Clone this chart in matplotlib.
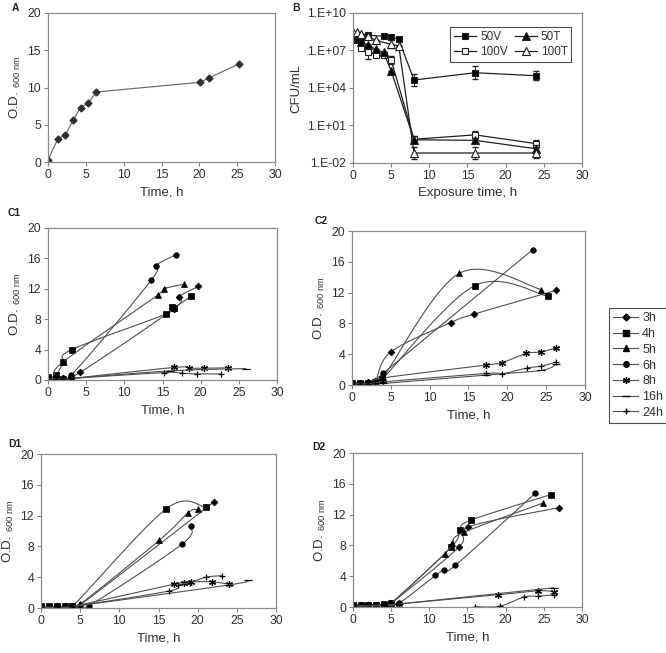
import matplotlib
matplotlib.use("Agg")
import matplotlib.pyplot as plt
import numpy as np

plt.rcParams['font.family'] = ['Liberation Sans', 'DejaVu Sans']
plt.rcParams['mathtext.fontset'] = 'custom'
plt.rcParams['mathtext.rm'] = 'Liberation Sans'
plt.rcParams['font.size'] = 8.5
plt.rcParams['text.color'] = '#303030'
plt.rcParams['axes.labelcolor'] = '#303030'
plt.rcParams['xtick.color'] = '#808080'
plt.rcParams['ytick.color'] = '#808080'
plt.rcParams['xtick.labelcolor'] = '#303030'
plt.rcParams['ytick.labelcolor'] = '#303030'
plt.rcParams['xtick.labelsize'] = 8.8
plt.rcParams['ytick.labelsize'] = 8.8

# ---- panel A : growth curve
a_time = [0, 1.3, 2.3, 3.3, 4.3, 5.3, 6.4, 20.1, 21.3, 25.3]
a_od = [0.3, 3.1, 3.65, 5.6, 7.3, 7.9, 9.4, 10.7, 11.3, 13.2]

# ---- panel B : CFU/mL (log10 values) and error (decades)
b_time = [0, 0.5, 1, 2, 3, 4, 5, 6, 8, 16, 24]
b_50v = [8.1, 8.05, 8.0, 8.22, None, 8.14, 8.09, 7.88, 4.64, 5.22, 4.98]
b_50v_err = [0, 0, 0, 0, 0, 0, 0, 0, 0.45, 0.5, 0.35]
b_100v = [8.3, 8.0, 7.2, 6.9, 6.65, 6.6, 6.25, None, -0.1, 0.25, -0.45]
b_100v_err = [0, 0, 0, 0.6, 0, 0, 0.3, 0, 0.2, 0.3, 0.25]
b_50t = [8.0, 7.9, 7.7, 7.45, 7.08, 6.84, 5.38, None, -0.14, -0.19, -0.86]
b_50t_err = [0, 0, 0, 0, 0, 0, 0, 0, 0.3, 0.2, 0.3]
b_100t = [8.45, 8.45, 8.35, 8.14, 7.8, None, 7.5, 7.37, -1.2, -1.2, -1.2]
b_100t_err = [0, 0, 0, 0, 0, 0, 0.3, 0, 0.5, 0.45, 0.4]
b_labels = ['50V', '100V', '50T', '100T']

inocula = ['3h', '4h', '5h', '6h', '8h', '16h', '24h']

# ---- panel C1
c1 = {
    '3h': ([0, 1, 2, 4.2, 16.5, 17.1, 19.7], [0.2, 0.2, 0.3, 1.0, 9.4, 10.9, 12.3]),
    '4h': ([0, 1, 2, 3.1, 15.5, 16.2, 16.5, 18.7], [0.4, 0.6, 2.3, 4.0, 8.7, 9.6, 9.5, 11.0]),
    '5h': ([0, 1, 2, 14.4, 15.2, 17.8], [0.3, 0.5, 2.4, 11.2, 12.0, 12.6]),
    '6h': ([0, 1, 3.0, 13.5, 14.1, 16.8], [0.2, 0.3, 0.6, 13.1, 15.0, 16.5]),
    '8h': ([0, 1, 2, 3, 16.5, 18.5, 20.5, 23.6], [0.2, 0.2, 0.2, 0.2, 1.65, 1.55, 1.55, 1.6]),
    '16h': ([0, 1, 2, 3, 16.0, 25.9], [0.1, 0.1, 0.2, 0.2, 1.2, 1.5]),
    '24h': ([0, 1, 2, 3, 15.2, 17.5, 19.5, 22.6], [0.1, 0.1, 0.1, 0.2, 0.97, 0.88, 0.8, 0.8]),
}

# ---- panel C2
c2 = {
    '3h': ([0, 1, 2, 3, 5.0, 12.7, 15.7, 26.3], [0.3, 0.3, 0.4, 0.5, 4.3, 8.1, 9.2, 12.3]),
    '4h': ([0, 1, 2, 3, 3.9, 15.8, 25.3], [0.3, 0.3, 0.3, 0.4, 0.8, 12.9, 11.5]),
    '5h': ([0, 1, 2, 3, 4.0, 13.8, 24.4], [0.2, 0.3, 0.3, 0.5, 1.0, 14.5, 12.4]),
    '6h': ([0, 1, 2, 3, 4.0, 23.3], [0.2, 0.3, 0.3, 0.4, 1.5, 17.6]),
    '8h': ([0, 1, 2, 3, 3.9, 17.3, 19.3, 22.4, 24.4, 26.3], [0.1, 0.2, 0.2, 0.3, 0.9, 2.6, 2.9, 4.1, 4.3, 4.85]),
    '16h': ([0, 1, 2, 3, 4.0, 17.3, 24.4, 26.3], [0.1, 0.1, 0.1, 0.2, 0.2, 1.3, 1.9, 2.7]),
    '24h': ([0, 1, 2, 3, 4.0, 17.3, 19.3, 22.5, 24.4, 26.3], [0.1, 0.1, 0.1, 0.2, 0.4, 1.5, 1.45, 2.2, 2.45, 3.0]),
}

# ---- panel D1
d1 = {
    '3h': ([0, 1, 2, 3, 4, 5, 22.1], [0.1, 0.1, 0.2, 0.2, 0.3, 0.4, 13.8]),
    '4h': ([0, 1, 2, 3, 4, 16.0, 21.0], [0.2, 0.2, 0.2, 0.2, 0.2, 12.9, 13.1]),
    '5h': ([0, 1, 2, 3, 4, 5, 15.1, 18.8, 20.0], [0.1, 0.1, 0.1, 0.2, 0.3, 0.5, 8.8, 12.4, 12.8]),
    '6h': ([0, 1, 2, 3, 4, 6.1, 18.0, 19.1], [0.1, 0.1, 0.1, 0.1, 0.2, 0.3, 8.3, 10.6]),
    '8h': ([0, 2, 4, 17.0, 18.2, 19.2, 21.8, 24.0], [0.1, 0.1, 0.2, 3.1, 3.3, 3.4, 3.4, 3.1]),
    '16h': ([0, 2, 4, 24.0, 26.4], [0.1, 0.1, 0.2, 3.0, 3.6]),
    '24h': ([0, 2, 4, 16.3, 17.5, 19.0, 21.0, 23.1], [0.1, 0.1, 0.2, 2.2, 3.0, 3.3, 4.0, 4.2]),
}

# ---- panel D2
d2 = {
    '3h': ([0, 1, 2, 3, 4, 5, 13.9, 15.1, 27.0], [0.2, 0.2, 0.2, 0.3, 0.3, 0.5, 7.8, 10.4, 12.9]),
    '4h': ([0, 1, 2, 3, 4, 5, 12.9, 14.0, 15.5, 25.9], [0.3, 0.3, 0.3, 0.3, 0.4, 0.5, 7.8, 10.0, 11.3, 14.6]),
    '5h': ([0, 1, 2, 3, 4, 5, 12.0, 13.0, 14.5, 24.9], [0.2, 0.2, 0.2, 0.3, 0.3, 0.5, 6.9, 8.3, 9.7, 13.5]),
    '6h': ([0, 1, 2, 3, 4, 6, 10.8, 11.9, 13.4, 23.9], [0.2, 0.2, 0.2, 0.3, 0.3, 0.5, 4.1, 4.8, 5.4, 14.8]),
    '8h': ([0, 2, 4, 6, 19.0, 24.3, 26.3], [0.1, 0.2, 0.3, 0.4, 1.6, 2.1, 2.0]),
    '16h': ([0, 4, 6, 26.3], [0.1, 0.2, 0.4, 2.5]),
    '24h': ([16.0, 19.2, 22.4, 24.2, 26.3], [0.05, 0.1, 1.3, 1.4, 1.6]),
}

markers = {'3h': ('D', 3.5), '4h': ('s', 4.5), '5h': ('^', 5), '6h': ('o', 4),
           '8h': ((6, 2, 0), 5), '16h': ('_', 6), '24h': ('+', 5)}

LINE = '#505050'
SPINE = '#8c8c8c'


def smooth(x, y, n=20):
    # excel style smoothed line (bezier through the points)
    p = np.column_stack([x, y]).astype(float)
    if len(p) < 3:
        return p[:, 0], p[:, 1]
    out = [p[0]]
    t = np.linspace(0, 1, n)[1:, None]
    for i in range(len(p) - 1):
        p0 = p[max(i - 1, 0)]
        p1 = p[i]
        p2 = p[i + 1]
        p3 = p[min(i + 2, len(p) - 1)]
        c1 = p1 + (p2 - p0) / 6
        c2 = p2 - (p3 - p1) / 6
        seg = ((1 - t) ** 3) * p1 + 3 * ((1 - t) ** 2) * t * c1 + 3 * (1 - t) * t ** 2 * c2 + t ** 3 * p2
        out.extend(seg)
    out = np.array(out)
    return out[:, 0], out[:, 1]


def style(ax):
    for s in ax.spines.values():
        s.set_color(SPINE)
        s.set_linewidth(0.9)
    ax.tick_params(direction='out', length=3, width=0.8, pad=2)


def od_label(ax):
    ax.set_ylabel(r'O.D. $_{\mathregular{600\ nm}}$', fontsize=9.5, labelpad=3)


fig = plt.figure(figsize=(6.66, 6.53), dpi=100)

# A
axA = fig.add_axes([0.0721, 0.7519, 0.3408, 0.2282])
axA.plot(a_time, a_od, color='#707070', lw=0.9, marker='D', ms=3.5,
         mfc='#303030', mec='#303030')
axA.set_xlim(0, 30)
axA.set_ylim(0, 20)
axA.set_xticks(range(0, 31, 5))
axA.set_yticks(range(0, 21, 5))
axA.set_xlabel('Time, h', fontsize=9.5)
od_label(axA)
style(axA)

# B
axB = fig.add_axes([0.530, 0.7504, 0.3438, 0.2297])
b_series = [(b_50v, b_50v_err, 's', 'k'), (b_100v, b_100v_err, 's', 'w'),
            (b_50t, b_50t_err, '^', 'k'), (b_100t, b_100t_err, '^', 'w')]
handles = []
for (vals, err, mk, fc), lab in zip(b_series, b_labels):
    xs = [t for t, v in zip(b_time, vals) if v is not None]
    lv = np.array([v for v in vals if v is not None])
    le = np.array([e for e, v in zip(err, vals) if v is not None])
    ys = 10.0 ** lv
    yerr = [ys - 10.0 ** (lv - le), 10.0 ** (lv + le) - ys]
    axB.errorbar(xs, ys, yerr=yerr, fmt='none', ecolor='#202020', elinewidth=0.7, capsize=2)
    h, = axB.plot(xs, ys, color='#202020', lw=0.9, marker=mk, ms=5 if mk == 's' else 5.5,
                  mfc=fc, mec='#202020', mew=0.8, label=lab)
    handles.append(h)
axB.set_yscale('log')
axB.set_xlim(0, 30)
axB.set_ylim(1e-2, 1e10)
axB.set_xticks(range(0, 31, 5))
axB.set_yticks([1e-2, 1e1, 1e4, 1e7, 1e10])
axB.set_yticklabels(['1.E-02', '1.E+01', '1.E+04', '1.E+07', '1.E+10'])
axB.yaxis.set_minor_locator(matplotlib.ticker.NullLocator())
axB.set_xlabel('Exposure time, h', fontsize=9.5)
axB.set_ylabel('CFU/mL', fontsize=9.5, labelpad=3)
axB.legend(handles=handles, ncol=2, loc='upper left', bbox_to_anchor=(0.40, 0.945),
           fontsize=8.5, frameon=True, fancybox=False, edgecolor='#202020',
           handlelength=1.9, columnspacing=0.6, handletextpad=0.3, borderpad=0.3,
           labelspacing=0.3).get_frame().set_linewidth(0.8)
style(axB)

# C1, C2, D1, D2
panels = [(c1, [0.0721, 0.4181, 0.3438, 0.2328]),
          (c2, [0.5285, 0.4104, 0.3498, 0.2358]),
          (d1, [0.0616, 0.0689, 0.3529, 0.2358]),
          (d2, [0.530, 0.0704, 0.3438, 0.2358])]
leg_handles = []
for k, (data, pos) in enumerate(panels):
    ax = fig.add_axes(pos)
    for name in inocula:
        xs, ys = data[name]
        sx, sy = smooth(xs, ys)
        ax.plot(sx, sy, color=LINE, lw=0.8)
        mk, ms = markers[name]
        ax.plot(xs, ys, ls='none', marker=mk, ms=ms, mfc='k', mec='k',
                mew=0.9 if name in ('8h', '16h', '24h') else 0.5)
        if k == 0:
            leg_handles.append(matplotlib.lines.Line2D([], [], color=LINE, lw=0.8, marker=mk,
                                                       ms=ms, mfc='k', mec='k', label=name))
    ax.set_xlim(0, 30)
    ax.set_ylim(0, 20)
    ax.set_xticks(range(0, 31, 5))
    ax.set_yticks(range(0, 21, 4))
    ax.set_xlabel('Time, h', fontsize=9.5)
    od_label(ax)
    style(ax)

lg = fig.legend(handles=leg_handles, loc='upper left', bbox_to_anchor=(0.905, 0.538),
                fontsize=9, frameon=True, fancybox=False, edgecolor='#202020',
                handlelength=2.0, handletextpad=0.3, borderpad=0.35, labelspacing=0.3)
lg.get_frame().set_linewidth(0.8)

# panel letters
for txt, x, y in [('A', 12, 8), ('B', 292, 8), ('C1', 8, 213), ('C2', 315, 221),
                  ('D1', 8, 444), ('D2', 312, 447)]:
    fig.text(x / 666, 1 - y / 653, txt, fontsize=7.5, fontweight='bold', color='#202020',
             va='center', ha='left')

fig.savefig('out.png', dpi=100)
